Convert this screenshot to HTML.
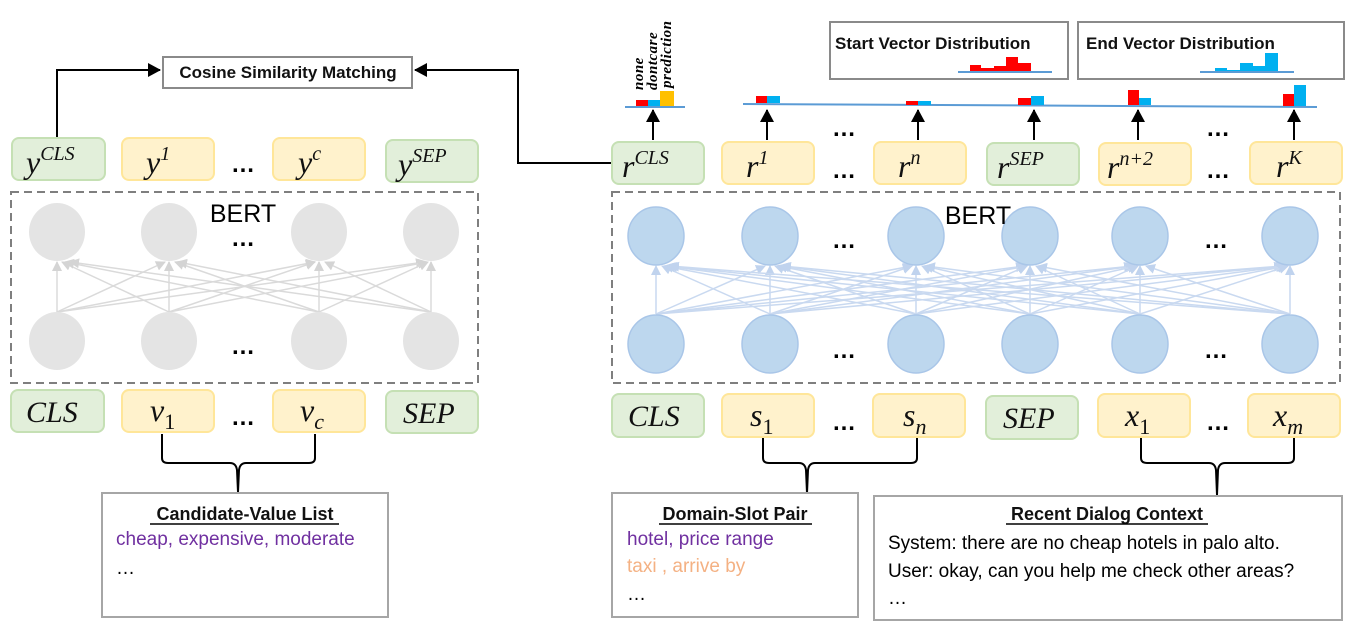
<!DOCTYPE html>
<html><head><meta charset="utf-8"><style>
html,body{margin:0;padding:0;background:#fff;}
svg{display:block;}
.m{font-family:"Liberation Serif",serif;font-style:italic;fill:#111;}
.sup{font-size:20px;}
.b{font-family:"Liberation Sans",sans-serif;font-weight:bold;fill:#111;}
.t{font-family:"Liberation Sans",sans-serif;}
</style></head><body>
<svg width="1353" height="624" viewBox="0 0 1353 624" font-size="32" xmlns="http://www.w3.org/2000/svg">
<defs>
<marker id="ah2" markerWidth="14" markerHeight="14" refX="12" refY="7" orient="auto" markerUnits="userSpaceOnUse"><path d="M0,0 L13,7 L0,14 z" fill="#000"/></marker>
<marker id="g" markerWidth="10" markerHeight="10" refX="9" refY="5" orient="auto" markerUnits="userSpaceOnUse"><path d="M0,0 L10,5 L0,10 z" fill="#d4d4d4"/></marker>
<marker id="bl" markerWidth="10" markerHeight="10" refX="9" refY="5" orient="auto" markerUnits="userSpaceOnUse"><path d="M0,0 L10,5 L0,10 z" fill="#c0d3ee"/></marker>
</defs>

<!-- Cosine box -->
<rect x="163" y="57" width="249" height="31" fill="#fff" stroke="#8a8a8a" stroke-width="2"/>
<text x="288" y="78" class="b" font-size="17" text-anchor="middle">Cosine Similarity Matching</text>
<path d="M57,138 V70 H160" fill="none" stroke="#000" stroke-width="2" marker-end="url(#ah2)"/>
<path d="M612,163 H518 V70 H415" fill="none" stroke="#000" stroke-width="2" marker-end="url(#ah2)"/>

<!-- left top boxes -->
<g stroke-width="2">
<rect x="12" y="138" width="93" height="42" rx="7" fill="#e2efda" stroke="#c5e0b4"/>
<rect x="122" y="138" width="92" height="42" rx="7" fill="#fff2cc" stroke="#ffe699"/>
<rect x="273" y="138" width="92" height="42" rx="7" fill="#fff2cc" stroke="#ffe699"/>
<rect x="386" y="140" width="92" height="42" rx="7" fill="#e2efda" stroke="#c5e0b4"/>
</g>
<text x="26" y="173" class="m">y<tspan class="sup" dy="-13">CLS</tspan></text>
<text x="146" y="173" class="m">y<tspan class="sup" dy="-13">1</tspan></text>
<text x="298" y="173" class="m">y<tspan class="sup" dy="-13">c</tspan></text>
<text x="398" y="175" class="m">y<tspan class="sup" dy="-13">SEP</tspan></text>
<text x="243" y="172" class="t" text-anchor="middle" font-size="24" font-weight="bold">…</text>

<!-- left BERT -->
<rect x="11" y="192" width="467" height="191" fill="none" stroke="#7f7f7f" stroke-width="2" stroke-dasharray="8,5"/>
<g stroke="#dadada" stroke-width="1.5" fill="none" marker-end="url(#g)">
<line x1="57" y1="312" x2="57" y2="262"/><line x1="57" y1="312" x2="165" y2="262"/><line x1="57" y1="312" x2="315" y2="262"/><line x1="57" y1="312" x2="425" y2="262"/>
<line x1="169" y1="312" x2="62" y2="262"/><line x1="169" y1="312" x2="169" y2="262"/><line x1="169" y1="312" x2="315" y2="262"/><line x1="169" y1="312" x2="427" y2="262"/>
<line x1="319" y1="312" x2="65" y2="262"/><line x1="319" y1="312" x2="175" y2="262"/><line x1="319" y1="312" x2="319" y2="262"/><line x1="319" y1="312" x2="428" y2="262"/>
<line x1="431" y1="312" x2="70" y2="262"/><line x1="431" y1="312" x2="178" y2="262"/><line x1="431" y1="312" x2="325" y2="262"/><line x1="431" y1="312" x2="431" y2="262"/>
</g>
<g fill="#e4e4e4">
<ellipse cx="57" cy="232" rx="28" ry="29"/><ellipse cx="169" cy="232" rx="28" ry="29"/><ellipse cx="319" cy="232" rx="28" ry="29"/><ellipse cx="431" cy="232" rx="28" ry="29"/>
<ellipse cx="57" cy="341" rx="28" ry="29"/><ellipse cx="169" cy="341" rx="28" ry="29"/><ellipse cx="319" cy="341" rx="28" ry="29"/><ellipse cx="431" cy="341" rx="28" ry="29"/>
</g>
<text x="243" y="222" class="t" font-size="25" text-anchor="middle" fill="#000">BERT</text>
<text x="243" y="246" class="t" font-size="24" font-weight="bold" text-anchor="middle">…</text>
<text x="243" y="354" class="t" font-size="24" font-weight="bold" text-anchor="middle">…</text>

<!-- left bottom boxes -->
<g stroke-width="2">
<rect x="11" y="390" width="93" height="42" rx="7" fill="#e2efda" stroke="#c5e0b4"/>
<rect x="122" y="390" width="92" height="42" rx="7" fill="#fff2cc" stroke="#ffe699"/>
<rect x="273" y="390" width="92" height="42" rx="7" fill="#fff2cc" stroke="#ffe699"/>
<rect x="386" y="391" width="92" height="42" rx="7" fill="#e2efda" stroke="#c5e0b4"/>
</g>
<text x="26" y="422" class="m" font-size="30">CLS</text>
<text x="150" y="421" class="m">v<tspan font-size="22" dy="8" font-style="normal">1</tspan></text>
<text x="300" y="421" class="m">v<tspan font-size="22" dy="8">c</tspan></text>
<text x="403" y="423" class="m" font-size="30">SEP</text>
<text x="243" y="425" class="t" font-size="24" font-weight="bold" text-anchor="middle">…</text>

<!-- braces -->
<g fill="none" stroke="#000" stroke-width="2">
<path d="M162,434 V458 Q162,463 168,463 H230 Q236,463 237,470 L238,492 L239,470 Q240,463 246,463 H309 Q315,463 315,458 V434"/>
<path d="M763,438 V458 Q763,463 769,463 H799 Q805,463 806,470 L807,493 L808,470 Q809,463 815,463 H911 Q917,463 917,458 V438"/>
<path d="M1141,438 V458 Q1141,463 1147,463 H1209 Q1215,463 1216,470 L1217,495 L1218,470 Q1219,463 1225,463 H1288 Q1294,463 1294,458 V438"/>
</g>

<!-- candidate box -->
<rect x="102" y="493" width="286" height="124" fill="#fff" stroke="#a6a6a6" stroke-width="2"/>
<text x="245" y="520" class="b" font-size="18" text-anchor="middle">Candidate-Value List</text>
<line x1="150" y1="524" x2="339" y2="524" stroke="#000" stroke-width="1.5"/>
<text x="116" y="545" class="t" font-size="19" fill="#7030a0">cheap, expensive, moderate</text>
<text x="116" y="574" class="t" font-size="19" fill="#000">…</text>

<!-- domain box -->
<rect x="612" y="493" width="246" height="124" fill="#fff" stroke="#a6a6a6" stroke-width="2"/>
<text x="735" y="520" class="b" font-size="18" text-anchor="middle">Domain-Slot Pair</text>
<line x1="659" y1="524" x2="812" y2="524" stroke="#000" stroke-width="1.5"/>
<text x="627" y="545" class="t" font-size="19" fill="#7030a0">hotel, price range</text>
<text x="627" y="572" class="t" font-size="19" fill="#f4b183">taxi , arrive by</text>
<text x="627" y="600" class="t" font-size="19" fill="#000">…</text>

<!-- dialog box -->
<rect x="874" y="496" width="468" height="124" fill="#fff" stroke="#a6a6a6" stroke-width="2"/>
<text x="1107" y="520" class="b" font-size="18" text-anchor="middle">Recent Dialog Context</text>
<line x1="1006" y1="524" x2="1208" y2="524" stroke="#000" stroke-width="1.5"/>
<text x="888" y="549" class="t" font-size="19" fill="#000">System: there are no cheap hotels in palo alto.</text>
<text x="888" y="577" class="t" font-size="19" fill="#000">User: okay, can you help me check other areas?</text>
<text x="888" y="604" class="t" font-size="19" fill="#000">…</text>

<!-- right top boxes -->
<g stroke-width="2">
<rect x="612" y="142" width="92" height="42" rx="7" fill="#e2efda" stroke="#c5e0b4"/>
<rect x="722" y="142" width="92" height="42" rx="7" fill="#fff2cc" stroke="#ffe699"/>
<rect x="874" y="142" width="92" height="42" rx="7" fill="#fff2cc" stroke="#ffe699"/>
<rect x="987" y="143" width="92" height="42" rx="7" fill="#e2efda" stroke="#c5e0b4"/>
<rect x="1099" y="143" width="92" height="42" rx="7" fill="#fff2cc" stroke="#ffe699"/>
<rect x="1250" y="142" width="92" height="42" rx="7" fill="#fff2cc" stroke="#ffe699"/>
</g>
<text x="622" y="177" class="m">r<tspan class="sup" dy="-13">CLS</tspan></text>
<text x="746" y="177" class="m">r<tspan class="sup" dy="-13">1</tspan></text>
<text x="898" y="177" class="m">r<tspan class="sup" dy="-13">n</tspan></text>
<text x="997" y="178" class="m">r<tspan class="sup" dy="-13">SEP</tspan></text>
<text x="1107" y="178" class="m">r<tspan class="sup" dy="-13">n+2</tspan></text>
<text x="1276" y="177" class="m">r<tspan class="sup" dy="-13">K</tspan></text>
<g class="t" font-size="24" font-weight="bold" text-anchor="middle">
<text x="844" y="136">…</text><text x="844" y="178">…</text>
<text x="1218" y="136">…</text><text x="1218" y="178">…</text>
</g>

<!-- up arrows -->
<g stroke="#000" stroke-width="2" marker-end="url(#ah2)">
<line x1="653" y1="140" x2="653" y2="110"/>
<line x1="767" y1="140" x2="767" y2="110"/>
<line x1="918" y1="140" x2="918" y2="110"/>
<line x1="1034" y1="140" x2="1034" y2="110"/>
<line x1="1138" y1="140" x2="1138" y2="110"/>
<line x1="1294" y1="140" x2="1294" y2="110"/>
</g>

<!-- bars -->
<line x1="625" y1="107" x2="685" y2="107" stroke="#5b9bd5" stroke-width="2"/>
<line x1="743" y1="104" x2="1317" y2="107" stroke="#5b9bd5" stroke-width="2"/>
<g>
<rect x="636" y="100" width="12" height="6" fill="#ff0000"/><rect x="648" y="100" width="12" height="6" fill="#00b0f0"/><rect x="660" y="91" width="14" height="15" fill="#ffc000"/>
<rect x="756" y="96" width="11" height="7" fill="#ff0000"/><rect x="767" y="96" width="13" height="7" fill="#00b0f0"/>
<rect x="906" y="101" width="12" height="4" fill="#ff0000"/><rect x="918" y="101" width="13" height="4" fill="#00b0f0"/>
<rect x="1018" y="98" width="13" height="7" fill="#ff0000"/><rect x="1031" y="96" width="13" height="9" fill="#00b0f0"/>
<rect x="1128" y="90" width="11" height="15" fill="#ff0000"/><rect x="1139" y="98" width="12" height="7" fill="#00b0f0"/>
<rect x="1283" y="94" width="11" height="12" fill="#ff0000"/><rect x="1294" y="85" width="12" height="21" fill="#00b0f0"/>
</g>
<g font-family="Liberation Serif,serif" font-style="italic" font-weight="bold" font-size="15" fill="#000" letter-spacing="0.5">
<text transform="translate(643,90) rotate(-90)">none</text>
<text transform="translate(657,90) rotate(-90)">dontcare</text>
<text transform="translate(671,88) rotate(-90)">prediction</text>
</g>

<!-- start/end distribution boxes -->
<rect x="830" y="22" width="238" height="57" fill="#fff" stroke="#8a8a8a" stroke-width="2"/>
<text x="835" y="49" class="b" font-size="17">Start Vector Distribution</text>
<line x1="958" y1="72" x2="1052" y2="72" stroke="#5b9bd5" stroke-width="2"/>
<path d="M970,71 V65 H981 V68 H994 V66 H1006 V57 H1018 V63 H1031 V71 z" fill="#ff0000"/>
<rect x="1078" y="22" width="266" height="57" fill="#fff" stroke="#8a8a8a" stroke-width="2"/>
<text x="1086" y="49" class="b" font-size="17">End Vector Distribution</text>
<line x1="1200" y1="72" x2="1294" y2="72" stroke="#5b9bd5" stroke-width="2"/>
<path d="M1215,71 V68 H1227 V70 H1240 V63 H1253 V66 H1265 V53 H1278 V71 z" fill="#00b0f0"/>

<!-- right BERT -->
<rect x="612" y="192" width="728" height="191" fill="none" stroke="#7f7f7f" stroke-width="2" stroke-dasharray="8,5"/>
<g stroke="#c9d9f0" stroke-width="1.5" fill="none" marker-end="url(#bl)">
<line x1="656" y1="314" x2="656" y2="266"/><line x1="656" y1="314" x2="765" y2="266"/><line x1="656" y1="314" x2="912" y2="266"/><line x1="656" y1="314" x2="1025" y2="266"/><line x1="656" y1="314" x2="1133" y2="266"/><line x1="656" y1="314" x2="1283" y2="266"/>
<line x1="770" y1="314" x2="662" y2="266"/><line x1="770" y1="314" x2="770" y2="266"/><line x1="770" y1="314" x2="912" y2="266"/><line x1="770" y1="314" x2="1027" y2="266"/><line x1="770" y1="314" x2="1135" y2="266"/><line x1="770" y1="314" x2="1285" y2="266"/>
<line x1="916" y1="314" x2="664" y2="266"/><line x1="916" y1="314" x2="775" y2="266"/><line x1="916" y1="314" x2="916" y2="266"/><line x1="916" y1="314" x2="1027" y2="266"/><line x1="916" y1="314" x2="1137" y2="266"/><line x1="916" y1="314" x2="1286" y2="266"/>
<line x1="1030" y1="314" x2="666" y2="266"/><line x1="1030" y1="314" x2="778" y2="266"/><line x1="1030" y1="314" x2="922" y2="266"/><line x1="1030" y1="314" x2="1030" y2="266"/><line x1="1030" y1="314" x2="1138" y2="266"/><line x1="1030" y1="314" x2="1287" y2="266"/>
<line x1="1140" y1="314" x2="668" y2="266"/><line x1="1140" y1="314" x2="780" y2="266"/><line x1="1140" y1="314" x2="924" y2="266"/><line x1="1140" y1="314" x2="1036" y2="266"/><line x1="1140" y1="314" x2="1140" y2="266"/><line x1="1140" y1="314" x2="1288" y2="266"/>
<line x1="1290" y1="314" x2="670" y2="266"/><line x1="1290" y1="314" x2="782" y2="266"/><line x1="1290" y1="314" x2="926" y2="266"/><line x1="1290" y1="314" x2="1038" y2="266"/><line x1="1290" y1="314" x2="1146" y2="266"/><line x1="1290" y1="314" x2="1290" y2="266"/>
</g>
<g fill="#bdd7ee" stroke="#a9c6e8" stroke-width="1.5">
<ellipse cx="656" cy="236" rx="28" ry="29"/><ellipse cx="770" cy="236" rx="28" ry="29"/><ellipse cx="916" cy="236" rx="28" ry="29"/><ellipse cx="1030" cy="236" rx="28" ry="29"/><ellipse cx="1140" cy="236" rx="28" ry="29"/><ellipse cx="1290" cy="236" rx="28" ry="29"/>
<ellipse cx="656" cy="344" rx="28" ry="29"/><ellipse cx="770" cy="344" rx="28" ry="29"/><ellipse cx="916" cy="344" rx="28" ry="29"/><ellipse cx="1030" cy="344" rx="28" ry="29"/><ellipse cx="1140" cy="344" rx="28" ry="29"/><ellipse cx="1290" cy="344" rx="28" ry="29"/>
</g>
<text x="978" y="224" class="t" font-size="25" text-anchor="middle" fill="#000">BERT</text>
<g class="t" font-size="24" font-weight="bold" text-anchor="middle">
<text x="844" y="248">…</text><text x="1216" y="248">…</text>
<text x="844" y="358">…</text><text x="1216" y="358">…</text>
<text x="844" y="430">…</text><text x="1218" y="430">…</text>
</g>

<!-- right bottom boxes -->
<g stroke-width="2">
<rect x="612" y="394" width="92" height="43" rx="7" fill="#e2efda" stroke="#c5e0b4"/>
<rect x="722" y="394" width="92" height="43" rx="7" fill="#fff2cc" stroke="#ffe699"/>
<rect x="873" y="394" width="92" height="43" rx="7" fill="#fff2cc" stroke="#ffe699"/>
<rect x="986" y="396" width="92" height="43" rx="7" fill="#e2efda" stroke="#c5e0b4"/>
<rect x="1098" y="394" width="92" height="43" rx="7" fill="#fff2cc" stroke="#ffe699"/>
<rect x="1248" y="394" width="92" height="43" rx="7" fill="#fff2cc" stroke="#ffe699"/>
</g>
<text x="628" y="426" class="m" font-size="30">CLS</text>
<text x="750" y="426" class="m">s<tspan font-size="22" dy="8" font-style="normal">1</tspan></text>
<text x="903" y="426" class="m">s<tspan font-size="22" dy="8">n</tspan></text>
<text x="1003" y="428" class="m" font-size="30">SEP</text>
<text x="1125" y="426" class="m">x<tspan font-size="22" dy="8" font-style="normal">1</tspan></text>
<text x="1273" y="426" class="m">x<tspan font-size="22" dy="8">m</tspan></text>
</svg>
</body></html>
